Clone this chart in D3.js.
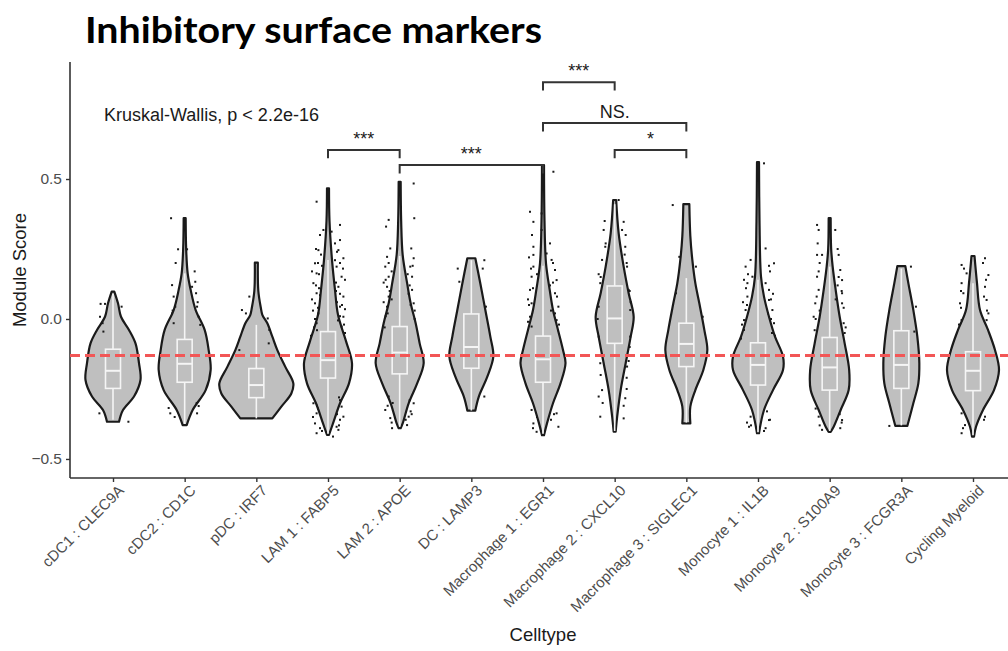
<!DOCTYPE html>
<html>
<head>
<meta charset="utf-8">
<script src="https://cdn.jsdelivr.net/npm/d3@7"></script>
<style>
  body { margin: 0; background: #fff; }
  text { font-family: "Liberation Sans", Arial, sans-serif; }
</style>
</head>
<body>
<svg id="svg1"></svg>
<script>

var width = 1008;
var height = 651;

// categories, in axis order
var cells = ["cDC1 : CLEC9A", "cDC2 : CD1C", "pDC : IRF7", "LAM 1 : FABP5", "LAM 2 : APOE",
  "DC : LAMP3", "Macrophage 1 : EGR1", "Macrophage 2 : CXCL10", "Macrophage 3 : SIGLEC1",
  "Monocyte 1 : IL1B", "Monocyte 2 : S100A9", "Monocyte 3 : FCGR3A", "Cycling Myeloid"];

var yTicks = [-0.5, 0.0, 0.5];
var refLine = -0.13;

// violin density profiles: [score, density]
var profiles = [
  [[0.098,0.13],[0.056,0.5],[0.008,0.8],[-0.039,1.6],[-0.087,2.25],[-0.158,2.6],[-0.218,2.75],[-0.277,2.1],[-0.325,1.0],[-0.367,0.6]],
  [[0.36,0.1],[0.25,0.15],[0.163,0.3],[0.104,0.6],[0.032,1.1],[-0.039,2.0],[-0.111,2.4],[-0.182,2.6],[-0.254,2.1],[-0.325,0.8],[-0.379,0.2]],
  [[0.201,0.15],[0.1,0.2],[0.04,0.45],[0.015,0.6],[-0.015,1.1],[-0.063,1.6],[-0.111,2.1],[-0.171,2.9],[-0.23,3.7],[-0.266,3.5],[-0.313,2.5],[-0.355,1.6]],
  [[0.467,0.1],[0.35,0.15],[0.211,0.4],[0.104,0.7],[0.015,1.0],[-0.079,1.8],[-0.158,2.4],[-0.23,2.1],[-0.301,1.2],[-0.373,0.5],[-0.414,0.1]],
  [[0.49,0.1],[0.35,0.15],[0.229,0.3],[0.127,0.75],[0.056,1.1],[-0.015,1.6],[-0.087,2.0],[-0.158,2.4],[-0.23,1.75],[-0.301,0.9],[-0.373,0.3],[-0.39,0.1]],
  [[0.217,0.4],[0.127,0.9],[0.032,1.4],[-0.063,1.9],[-0.134,2.2],[-0.206,1.6],[-0.277,0.75],[-0.327,0.4]],
  [[0.55,0.1],[0.35,0.15],[0.199,0.3],[0.104,0.67],[0.032,1.0],[-0.039,1.5],[-0.111,2.0],[-0.158,2.25],[-0.23,1.75],[-0.301,1.0],[-0.373,0.4],[-0.415,0.1]],
  [[0.425,0.15],[0.306,0.4],[0.187,0.9],[0.092,1.4],[0.008,1.9],[-0.063,1.6],[-0.158,1.1],[-0.254,0.6],[-0.349,0.25],[-0.402,0.1]],
  [[0.41,0.3],[0.296,0.4],[0.211,0.6],[0.128,0.9],[0.056,1.3],[-0.039,1.8],[-0.111,2.1],[-0.182,1.7],[-0.254,0.9],[-0.313,0.4],[-0.373,0.4]],
  [[0.56,0.1],[0.35,0.15],[0.151,0.3],[0.08,0.6],[0.008,1.1],[-0.063,1.7],[-0.134,2.5],[-0.182,2.5],[-0.254,1.5],[-0.325,0.6],[-0.408,0.1]],
  [[0.36,0.1],[0.25,0.15],[0.187,0.3],[0.104,0.6],[0.008,1.0],[-0.087,1.5],[-0.182,1.95],[-0.254,1.9],[-0.325,1.1],[-0.385,0.4],[-0.403,0.1]],
  [[0.189,0.4],[0.128,0.7],[0.032,1.2],[-0.063,1.6],[-0.158,1.8],[-0.23,1.7],[-0.301,1.2],[-0.382,0.6]],
  [[0.225,0.15],[0.128,0.4],[0.032,0.7],[-0.039,1.5],[-0.111,2.2],[-0.182,2.6],[-0.254,2.1],[-0.325,1.0],[-0.385,0.3],[-0.42,0.1]]
];

// box stats: [lower whisker, q1, median, q3, upper whisker]
var boxes = [
  [-0.36, -0.248, -0.185, -0.108, 0.09],
  [-0.375, -0.226, -0.16, -0.073, 0.163],
  [-0.355, -0.281, -0.236, -0.177, -0.021],
  [-0.41, -0.211, -0.147, -0.045, 0.211],
  [-0.385, -0.196, -0.12, -0.027, 0.225],
  [-0.327, -0.176, -0.1, 0.018, 0.21],
  [-0.41, -0.226, -0.144, -0.061, 0.19],
  [-0.40, -0.087, 0.002, 0.118, 0.41],
  [-0.37, -0.17, -0.089, -0.015, 0.146],
  [-0.405, -0.236, -0.164, -0.085, 0.14],
  [-0.40, -0.254, -0.173, -0.066, 0.187],
  [-0.38, -0.248, -0.164, -0.042, 0.18],
  [-0.415, -0.256, -0.185, -0.117, 0.128]
];

// jittered cells that show outside the violins: [score, jitter]
var dots = [
  [[0.054,-0.62],[0.054,-0.4],[0.044,0.43],[0.008,-0.65],[-0.015,-0.52],[-0.045,-0.48],[-0.367,0.77],[-0.337,-0.68]],
  [[0.36,-0.68],[0.249,-0.33],[0.249,0.12],[0.133,0.53],[0.121,-0.63],[0.115,0.37],[0.08,-0.55],[0.092,0.57],[0.044,-0.47],[0.044,0.62],[0.02,-0.63],[0.008,0.7],[-0.015,-0.55],[-0.021,0.78],[-0.318,-0.8],[-0.311,0.7],[-0.337,-0.72],[-0.337,0.62],
   [0.2,-0.45],[0.17,0.5],[0.06,0.65],[0.03,-0.6],[-0.3,0.6],[-0.35,-0.5]],
  [[0.032,-0.72],[0.02,-0.52],[0.08,-0.35],[0.002,0.57],[-0.039,0.65],[-0.087,0.62],[-0.111,-0.85]],
  [[0.419,-0.57],[0.318,-0.23],[0.336,0.6],[0.312,0.18],[0.3,-0.4],[0.282,0.6],[0.246,-0.48],[0.246,0.52],[0.217,0.77],[0.199,-0.65],[0.187,0.43],[0.163,-0.57],[0.151,0.68],[0.128,-0.73],[0.115,0.52],[0.092,-0.57],[0.08,0.77],[0.056,-0.65],[0.044,0.6],[0.02,-0.48],[0.008,0.77],[-0.015,-0.57],[-0.027,0.68],[-0.301,-0.73],[-0.313,0.68],[-0.337,-0.57],[-0.349,0.77],[-0.373,-0.65],[-0.385,0.43],[-0.408,-0.57],[-0.396,0.52],
   [0.23,-0.35],[0.21,0.35],[0.17,-0.8],[0.14,0.85],[0.11,-0.45],[0.1,0.4],[0.07,-0.8],[0.06,0.45],[0.03,-0.75],[0.035,0.85],[-0.005,0.5],[-0.03,-0.7],[-0.05,0.85],[-0.06,-0.85],[-0.28,0.55],[-0.32,-0.5],[-0.36,0.6],[-0.39,-0.4],[-0.42,0.25],[0.27,0.35],[0.19,-0.3],
   [0.25,-0.6],[0.24,0.45],[0.2,-0.5],[0.2,0.6],[0.18,0.75],[0.16,-0.45],[0.13,0.4],[0.12,-0.6],[0.09,0.6],[0.085,-0.4],[0.05,0.7],[0.04,-0.5],[0.01,0.6],[0.0,-0.65],[-0.02,0.8],[-0.04,-0.55],[-0.29,0.6],[-0.31,-0.55],[-0.34,0.45],[-0.35,-0.75],[-0.38,0.55],[-0.4,-0.3]],
  [[0.484,0.7],[0.354,-0.55],[0.33,-0.68],[0.36,0.73],[0.252,-0.47],[0.252,0.58],[0.222,-0.63],[0.217,0.7],[0.187,-0.72],[0.187,0.53],[0.151,-0.55],[0.151,0.62],[0.115,-0.63],[0.104,0.62],[0.08,-0.55],[0.056,0.7],[0.044,-0.63],[-0.277,-0.55],[-0.301,0.7],[-0.325,-0.72],[-0.349,0.45],[-0.39,-0.38],[-0.379,0.37],[-0.354,-0.47],
   [0.17,-0.4],[0.16,0.4],[0.13,-0.8],[0.09,0.45],[0.07,-0.4],[0.03,0.75],[0.01,-0.7],[-0.3,-0.35],[-0.33,0.55],[-0.36,0.3],
   [0.2,-0.55],[0.19,0.65],[0.14,-0.7],[0.12,0.5],[0.1,-0.5],[0.06,-0.8],[0.05,0.55],[0.02,-0.6],[0.0,0.75],[-0.03,-0.75],[-0.29,0.5],[-0.31,-0.6],[-0.34,0.6],[-0.37,-0.4]],
  [[0.21,0.65],[0.18,-0.68],[0.18,0.57],[0.133,-0.6],[0.044,0.73],[-0.277,0.65]],
  [[0.526,0.52],[0.383,-0.65],[0.377,-0.07],[0.347,-0.48],[0.318,-0.07],[0.258,-0.48],[0.229,-0.48],[0.234,0.18],[0.211,0.43],[0.187,-0.48],[0.175,0.6],[0.151,-0.57],[0.139,0.68],[0.104,-0.65],[0.092,0.6],[0.056,-0.57],[0.044,0.77],[0.008,-0.65],[-0.004,0.68],[-0.027,-0.57],[-0.325,-0.57],[-0.337,0.68],[-0.373,-0.48],[-0.385,0.77],[-0.403,-0.32],
   [0.27,0.35],[0.22,-0.7],[0.16,-0.3],[0.12,0.35],[0.07,-0.75],[0.03,0.4],[-0.02,0.8],[-0.35,-0.3],[-0.36,0.4],
   [0.3,-0.55],[0.2,0.5],[0.18,-0.6],[0.13,0.5],[0.11,-0.5],[0.08,0.7],[0.05,-0.7],[0.02,0.6],[-0.01,-0.75],[-0.04,0.75],[-0.34,0.55],[-0.39,-0.5]],
  [[0.318,-0.55],[0.347,0.45],[0.318,0.37],[0.258,-0.47],[0.258,0.53],[0.211,-0.63],[0.187,0.62],[0.128,-0.72],[0.104,0.7],[0.044,-0.8],[0.032,0.78],[-0.063,-0.8],[-0.063,0.78],[-0.158,-0.72],[-0.17,0.62],[-0.254,-0.63],[-0.277,-0.8],[-0.283,0.53],[-0.349,-0.72],[-0.355,0.45],[0.425,0.2],
   [0.27,-0.45],[0.23,0.5],[0.16,-0.8],[0.06,0.8],[0.0,-0.85],[-0.1,0.75],[-0.2,-0.7],[-0.21,0.6],[-0.31,0.45],
   [0.35,-0.5],[0.3,0.55],[0.2,0.6],[0.15,-0.7],[0.1,0.75],[-0.15,0.7],[-0.25,0.6],[-0.3,-0.6]],
  [[0.407,-0.68],[0.222,-0.35],[0.092,-0.52],[0.187,0.48],[0.008,0.82]],
  [[0.556,0.3],[0.252,0.38],[0.199,0.8],[0.187,-0.62],[0.211,-0.37],[0.151,-0.28],[0.128,-0.53],[0.128,0.38],[0.104,0.55],[0.08,-0.53],[0.068,0.55],[0.032,-0.62],[0.032,0.72],[-0.004,-0.7],[-0.015,0.8],[-0.039,-0.7],[-0.349,-0.37],[-0.361,0.55],[-0.385,-0.45],[-0.39,0.38],
   [0.17,0.6],[0.14,-0.7],[0.09,0.75],[0.06,-0.75],[0.02,0.5],[-0.06,0.85],[-0.07,-0.85],[-0.33,0.45],[-0.37,-0.55],[-0.4,0.3],
   [0.19,0.55],[0.16,-0.5],[0.11,-0.6],[0.07,0.65],[0.05,-0.55],[0.0,0.65],[-0.02,-0.8],[-0.05,0.7],[-0.36,0.6],[-0.38,-0.35]],
  [[0.336,-0.63],[0.318,-0.55],[0.318,0.28],[0.229,-0.63],[0.229,-0.38],[0.229,0.45],[0.175,0.53],[0.151,-0.63],[0.139,0.62],[0.104,-0.55],[0.092,0.62],[0.056,-0.72],[0.056,0.62],[0.008,-0.8],[-0.015,0.7],[-0.349,-0.55],[-0.361,0.62],[-0.396,-0.38],[-0.39,0.53],
   [0.2,-0.5],[0.12,0.4],[0.07,0.3],[0.03,-0.5],[-0.04,-0.75],[-0.05,0.75],[-0.32,-0.7],[-0.34,0.5],
   [0.27,-0.6],[0.25,0.4],[0.17,-0.55],[0.15,0.45],[0.1,0.6],[0.08,-0.65],[0.04,0.7],[0.0,-0.7],[-0.03,0.8],[-0.37,0.6],[-0.38,-0.5]],
  [[0.187,0.48],[0.044,0.73],[-0.045,0.65],[-0.382,-0.6]],
  [[0.217,0.6],[0.193,-0.57],[0.163,-0.32],[0.157,0.77],[0.128,-0.57],[0.115,0.6],[0.092,-0.48],[0.068,0.68],[0.056,-0.65],[0.02,0.77],[-0.004,-0.57],[-0.004,0.68],[-0.337,-0.57],[-0.349,0.6],[-0.408,-0.57],[-0.379,-0.4],
   [0.2,0.5],[0.18,-0.45],[0.14,0.65],[0.1,-0.6],[0.08,0.55],[0.04,-0.6],[0.03,0.7],[-0.02,-0.7],[-0.36,0.55],[-0.39,-0.5]]
];

// pairwise comparisons
var compFrom = ["LAM 1 : FABP5", "LAM 2 : APOE", "Macrophage 1 : EGR1", "Macrophage 1 : EGR1", "Macrophage 2 : CXCL10"];
var compTo = ["LAM 2 : APOE", "Macrophage 1 : EGR1", "Macrophage 2 : CXCL10", "Macrophage 3 : SIGLEC1", "Macrophage 3 : SIGLEC1"];
var compY = [0.604, 0.55, 0.846, 0.70, 0.604];
var compLabel = ["***", "***", "***", "NS.", "*"];

var svg = d3.select("#svg1")
    .attr("width", width)
    .attr("height", height);

var x = d3.scalePoint()
    .domain(cells)
    .range([113, 973]);

var y = d3.scaleLinear()
    .domain([-0.568, 0.918])
    .range([478, 62]);

var w = d3.scaleLinear().domain([0, 1]).range([0, 10]);
var jit = d3.scaleLinear().domain([-1, 1]).range([-20, 20]);

// title
svg.append("text")
    .attr("x", 85)
    .attr("y", 43)
    .attr("textLength", 457)
    .attr("lengthAdjust", "spacingAndGlyphs")
    .style("font-family", "Lato, 'Open Sans', sans-serif")
    .style("font-weight", "bold")
    .style("font-size", "36px")
    .style("fill", "#000")
    .text("Inhibitory surface markers");

// axes
var yAxis = svg.append("g")
    .attr("transform", "translate(70,0)")
    .call(d3.axisLeft(y).tickValues(yTicks).tickSize(4).tickPadding(4).tickFormat(d3.format(".1f")));
yAxis.select(".domain").attr("d", "M0,62V478").attr("stroke", "#333").attr("stroke-width", 1.6);
yAxis.selectAll(".tick line").attr("stroke", "#333").attr("stroke-width", 1.4);
yAxis.selectAll(".tick text").style("font-size", "15.5px").style("fill", "#4d4d4d")
    .style("font-family", "'Liberation Sans', Arial, sans-serif");

var xAxis = svg.append("g")
    .attr("transform", "translate(0,478)")
    .call(d3.axisBottom(x).tickSize(4).tickPadding(4));
xAxis.select(".domain").attr("d", "M70,0H1008").attr("stroke", "#333").attr("stroke-width", 1.6);
xAxis.selectAll(".tick line").attr("stroke", "#333").attr("stroke-width", 1.4);
xAxis.selectAll(".tick text")
    .attr("text-anchor", "end")
    .attr("transform", "translate(4,6) rotate(-45)")
    .attr("x", 0).attr("y", 0).attr("dy", "0.7em")
    .style("font-size", "15px").style("fill", "#4d4d4d")
    .style("font-family", "'Liberation Sans', Arial, sans-serif");

svg.append("text")
    .attr("x", 543).attr("y", 641)
    .attr("text-anchor", "middle")
    .style("font-size", "18.5px").style("fill", "#1a1a1a")
    .text("Celltype");

svg.append("text")
    .attr("transform", "translate(26,270) rotate(-90)")
    .attr("text-anchor", "middle")
    .style("font-size", "18.5px").style("fill", "#1a1a1a")
    .text("Module Score");

// violins
var area = d3.area()
    .curve(d3.curveCatmullRom)
    .y(function(d) { return y(d[0]); });

var g = svg.append("g");
cells.forEach(function(c, i) {
  var cx = x(c);
  area.x0(function(d) { return cx - w(d[1]); })
      .x1(function(d) { return cx + w(d[1]); });
  g.append("path")
    .attr("d", area(profiles[i]))
    .attr("fill", "#bfbfbf")
    .attr("stroke", "#1a1a1a")
    .attr("stroke-width", 2.2)
    .attr("stroke-linejoin", "round");

  var b = boxes[i];
  var bw = 7.5;
  g.append("line").attr("x1", cx).attr("x2", cx).attr("y1", y(b[3])).attr("y2", y(b[4]))
    .attr("stroke", "#f5f5f5").attr("stroke-width", 1.6);
  g.append("line").attr("x1", cx).attr("x2", cx).attr("y1", y(b[1])).attr("y2", y(b[0]))
    .attr("stroke", "#f5f5f5").attr("stroke-width", 1.6);
  g.append("rect")
    .attr("x", cx - bw).attr("width", 2 * bw)
    .attr("y", y(b[3])).attr("height", y(b[1]) - y(b[3]))
    .attr("fill", "none").attr("stroke", "#f5f5f5").attr("stroke-width", 1.6);
  g.append("line").attr("x1", cx - bw).attr("x2", cx + bw).attr("y1", y(b[2])).attr("y2", y(b[2]))
    .attr("stroke", "#f5f5f5").attr("stroke-width", 2);

  g.selectAll(null)
    .data(dots[i])
    .enter()
    .append("rect")
      .attr("x", function(d) { return cx + jit(d[1]) - 1; })
      .attr("y", function(d) { return y(d[0]) - 1; })
      .attr("width", 2).attr("height", 2)
      .attr("fill", "#1a1a1a");
});

// reference line
svg.append("line")
    .attr("x1", 70).attr("x2", 1008)
    .attr("y1", y(refLine)).attr("y2", y(refLine))
    .attr("stroke", "#f25656")
    .attr("stroke-width", 3)
    .attr("stroke-dasharray", "10,5");

// Kruskal-Wallis label
svg.append("text")
    .attr("x", 104).attr("y", 121)
    .style("font-size", "18px").style("fill", "#1a1a1a")
    .text("Kruskal-Wallis, p < 2.2e-16");

// significance brackets
var tip = 0.03;
compFrom.forEach(function(a, i) {
  var x1 = x(a), x2 = x(compTo[i]), yy = y(compY[i]), yt = y(compY[i] - tip);
  svg.append("path")
    .attr("d", "M" + x1 + "," + yt + "V" + yy + "H" + x2 + "V" + yt)
    .attr("fill", "none")
    .attr("stroke", "#333")
    .attr("stroke-width", 2);
  svg.append("text")
    .attr("x", (x1 + x2) / 2).attr("y", yy - 5)
    .attr("text-anchor", "middle")
    .style("font-size", "18px").style("fill", "#1a1a1a")
    .text(compLabel[i]);
});

</script>
</body>
</html>
